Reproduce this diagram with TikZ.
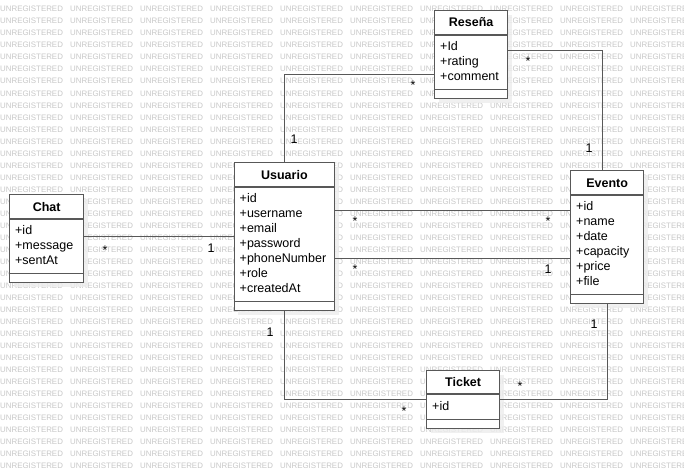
\documentclass[tikz,border=0pt]{standalone}
\usepackage{fontspec}
\setmainfont{Liberation Sans}
\usetikzlibrary{calc,shadows}
\definecolor{linegray}{RGB}{88,88,88}
\definecolor{markgray}{RGB}{200,200,200}

\tikzset{
  classbox/.style={draw=linegray, line width=1.3pt, fill=white, anchor=north west, inner sep=0pt,
    drop shadow={shadow xshift=4pt, shadow yshift=-4pt, fill=black!7, opacity=0.8}},
  classline/.style={draw=linegray, line width=1.3pt},
  classtitle/.style={font=\fontsize{12.5}{15}\selectfont\bfseries, anchor=base, inner sep=0pt},
  classattr/.style={font=\fontsize{12.5}{15}\selectfont, anchor=base west, inner sep=0pt},
  assoc/.style={draw=linegray, line width=1.3pt},
  mult/.style={font=\fontsize{12.5}{15}\selectfont, anchor=base, inner sep=0pt},
  watermark/.style={font=\fontsize{7.9}{8}\selectfont, text=markgray, anchor=base west, inner sep=0pt},
}

\begin{document}
\begin{tikzpicture}[x=1pt,y=-1pt]
  \useasboundingbox[fill=white] (0,0) rectangle (684,468);
  % background watermark
  \foreach \r in {0,...,38}
    \foreach \c in {0,...,9}
      \node[watermark] (mark-\r-\c) at ({70*\c},{12+12*\r}) {UNREGISTERED};

  % classes
  \node[classbox, minimum width=73, minimum height=88] (resena) at (434,10) {};
  \draw[classline] ($(resena.north west)+(0,25)$) -- ($(resena.north east)+(0,25)$);
  \draw[classline] ($(resena.south west)+(0,-10)$) -- ($(resena.south east)+(0,-10)$);
  \node[classtitle] (resenatitle) at ($(resena.north)+(0,17)$) {Reseña};
  \foreach \a [count=\i] in {+Id,+rating,+comment}
    \node[classattr] (resenaattr\i) at ($(resena.north west)+(6,{25.5+15*\i})$) {\a};

  \node[classbox, minimum width=100.5, minimum height=148] (usuario) at (233.5,162) {};
  \draw[classline] ($(usuario.north west)+(0,25)$) -- ($(usuario.north east)+(0,25)$);
  \draw[classline] ($(usuario.south west)+(0,-10)$) -- ($(usuario.south east)+(0,-10)$);
  \node[classtitle] (usuariotitle) at ($(usuario.north)+(0,17)$) {Usuario};
  \foreach \a [count=\i] in {+id,+username,+email,+password,+phoneNumber,+role,+createdAt}
    \node[classattr] (usuarioattr\i) at ($(usuario.north west)+(6,{25.5+15*\i})$) {\a};

  \node[classbox, minimum width=73, minimum height=133] (evento) at (570,170) {};
  \draw[classline] ($(evento.north west)+(0,25)$) -- ($(evento.north east)+(0,25)$);
  \draw[classline] ($(evento.south west)+(0,-10)$) -- ($(evento.south east)+(0,-10)$);
  \node[classtitle] (eventotitle) at ($(evento.north)+(0,17)$) {Evento};
  \foreach \a [count=\i] in {+id,+name,+date,+capacity,+price,+file}
    \node[classattr] (eventoattr\i) at ($(evento.north west)+(6,{25.5+15*\i})$) {\a};

  \node[classbox, minimum width=74, minimum height=88] (chat) at (9,194) {};
  \draw[classline] ($(chat.north west)+(0,25)$) -- ($(chat.north east)+(0,25)$);
  \draw[classline] ($(chat.south west)+(0,-10)$) -- ($(chat.south east)+(0,-10)$);
  \node[classtitle] (chattitle) at ($(chat.north)+(0,17)$) {Chat};
  \foreach \a [count=\i] in {+id,+message,+sentAt}
    \node[classattr] (chatattr\i) at ($(chat.north west)+(6,{25.5+15*\i})$) {\a};

  \node[classbox, minimum width=73, minimum height=58] (ticket) at (426,370) {};
  \draw[classline] ($(ticket.north west)+(0,24)$) -- ($(ticket.north east)+(0,24)$);
  \draw[classline] ($(ticket.south west)+(0,-10)$) -- ($(ticket.south east)+(0,-10)$);
  \node[classtitle] (tickettitle) at ($(ticket.north)+(0,16.5)$) {Ticket};
  \node[classattr] (ticketattr1) at ($(ticket.north west)+(6,40.5)$) {+id};

  % associations
  \draw[assoc] (usuario.north) |- ($(resena.west)+(0,20)$);
  \draw[assoc] ($(resena.east)+(0,-4)$) -| ($(evento.north)+(-5,0)$);
  \draw[assoc] ([yshift=26pt]usuario.east) -- ([yshift=26pt]usuario.east -| evento.west);
  \draw[assoc] ([yshift=-22pt]usuario.east) -- ([yshift=-22pt]usuario.east -| evento.west);
  \draw[assoc] (usuario.west) -- (usuario.west -| chat.east);
  \draw[assoc] (usuario.south) |- (ticket.west);
  \draw[assoc] (ticket.east) -| (evento.south);

  % multiplicities
  \node[mult] (m-ur-1) at (294,143.5) {1};
  \node[mult] (m-ur-2) at (413,90) {*};
  \node[mult] (m-re-1) at (528,66) {*};
  \node[mult] (m-re-2) at (589,152.5) {1};
  \node[mult] (m-ue-1) at (355,225) {*};
  \node[mult] (m-ue-2) at (548,225) {*};
  \node[mult] (m-ue-3) at (355,273) {*};
  \node[mult] (m-ue-4) at (548,273) {1};
  \node[mult] (m-cu-1) at (105,254) {*};
  \node[mult] (m-cu-2) at (211,252) {1};
  \node[mult] (m-ut-1) at (270,336) {1};
  \node[mult] (m-ut-2) at (404,415) {*};
  \node[mult] (m-te-1) at (520,390) {*};
  \node[mult] (m-te-2) at (594,328) {1};
\end{tikzpicture}
\end{document}
